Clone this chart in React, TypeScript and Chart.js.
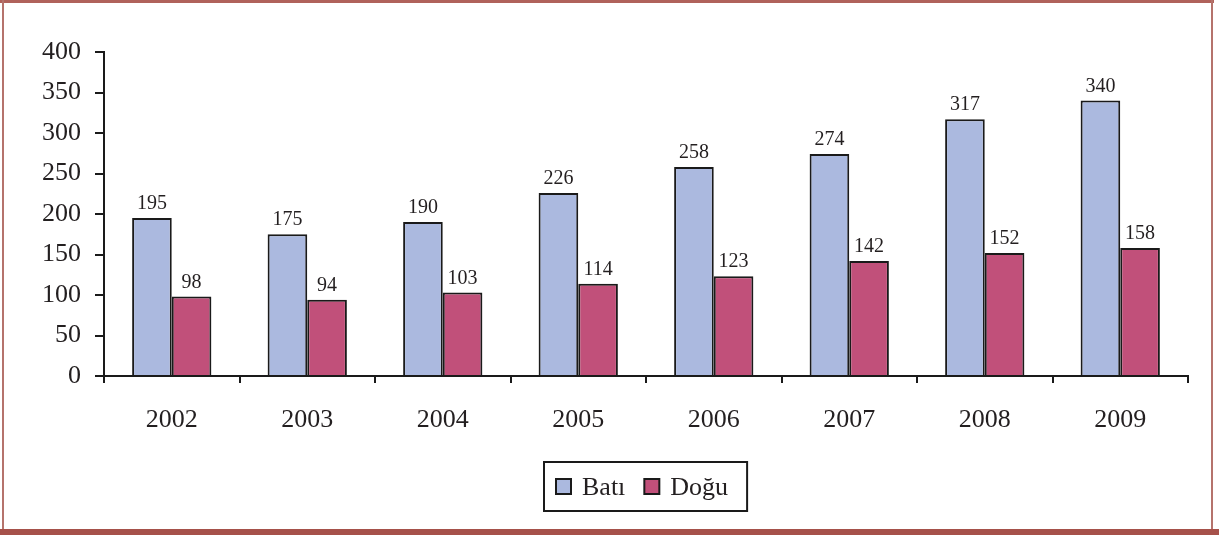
import React, { useEffect, useRef } from "react";
import { Chart, registerables } from "chart.js";

Chart.register(...registerables);

const categories = ["2002", "2003", "2004", "2005", "2006", "2007", "2008", "2009"];
const batiValues = [195, 175, 190, 226, 258, 274, 317, 340];
const doguValues = [98, 94, 103, 114, 123, 142, 152, 158];
const seriesNames = ["Batı", "Doğu"];
const yTicks = [0, 50, 100, 150, 200, 250, 300, 350, 400];

const FONT = '"Liberation Serif", "Times New Roman", serif';
const TEXT = "#231F20";
const BLUE = "#ABB9DF";
const RED = "#C1507A";

const W = 1219;
const H = 535;

const valueLabels = {
  id: "valueLabels",
  afterDatasetsDraw(chart: any) {
    const ctx = chart.ctx;
    ctx.save();
    ctx.font = `20px ${FONT}`;
    ctx.fillStyle = TEXT;
    ctx.textAlign = "center";
    ctx.textBaseline = "alphabetic";
    chart.data.datasets.forEach((ds: any, i: number) => {
      const meta = chart.getDatasetMeta(i);
      meta.data.forEach((el: any, j: number) => {
        ctx.fillText(String(ds.data[j]), el.x, el.y - 9);
      });
    });
    ctx.restore();
  },
};

const boxLegend = {
  id: "boxLegend",
  afterDraw(chart: any) {
    const ctx = chart.ctx;
    const area = chart.chartArea;
    ctx.save();
    ctx.font = `26px ${FONT}`;
    const items = chart.data.datasets.map((ds: any) => ({
      label: ds.label,
      color: ds.backgroundColor,
      w: ctx.measureText(ds.label).width,
    }));
    const padL = 12;
    const padR = 19;
    const sq = 15;
    const gapSqText = 11;
    const gapItems = 19;
    let total = padL + padR;
    items.forEach((it: any, i: number) => {
      total += sq + gapSqText + it.w + (i < items.length - 1 ? gapItems : 0);
    });
    const boxTop = 462;
    const boxH = 49;
    const cx = (area.left + area.right) / 2;
    const boxLeft = Math.round(cx - total / 2);
    ctx.lineWidth = 2;
    ctx.strokeStyle = "#1a1a1a";
    ctx.strokeRect(boxLeft, boxTop, total, boxH);
    let x = boxLeft + padL;
    items.forEach((it: any) => {
      ctx.fillStyle = it.color;
      ctx.fillRect(x, 479, sq, sq);
      ctx.lineWidth = 2;
      ctx.strokeStyle = "#1a1a1a";
      ctx.strokeRect(x, 479, sq, sq);
      ctx.fillStyle = TEXT;
      ctx.textAlign = "left";
      ctx.textBaseline = "alphabetic";
      ctx.fillText(it.label, x + sq + gapSqText, 495);
      x += sq + gapSqText + it.w + gapItems;
    });
    ctx.restore();
  },
};

export default function App() {
  const ref = useRef<HTMLCanvasElement | null>(null);

  useEffect(() => {
    document.body.style.margin = "0";
    const canvas = ref.current;
    if (!canvas) return;
    const chart = new Chart(canvas, {
      type: "bar",
      data: {
        labels: categories,
        datasets: [
          {
            label: seriesNames[0],
            data: batiValues,
            backgroundColor: BLUE,
            borderColor: "#1a1a1a",
            borderWidth: 2,
            categoryPercentage: 0.585,
            barPercentage: 1,
          },
          {
            label: seriesNames[1],
            data: doguValues,
            backgroundColor: RED,
            borderColor: "#1a1a1a",
            borderWidth: 2,
            categoryPercentage: 0.585,
            barPercentage: 1,
          },
        ],
      },
      options: {
        responsive: false,
        animation: false,
        devicePixelRatio: 1,
        layout: { padding: { top: 52, right: 31, left: 0, bottom: 0 } },
        plugins: {
          legend: { display: false },
          tooltip: { enabled: false },
        },
        scales: {
          x: {
            grid: {
              offset: true,
              drawOnChartArea: false,
              drawTicks: true,
              tickLength: 7,
              color: "#1a1a1a",
              lineWidth: 2,
            },
            border: { display: true, color: "#1a1a1a", width: 2 },
            ticks: {
              color: TEXT,
              font: { family: FONT, size: 26 },
              padding: 22,
              maxRotation: 0,
            },
            afterFit(scale: any) {
              scale.height = 159;
            },
          },
          y: {
            min: 0,
            max: 400,
            afterBuildTicks(scale: any) {
              scale.ticks = yTicks.map((v) => ({ value: v }));
            },
            grid: {
              drawOnChartArea: false,
              drawTicks: true,
              tickLength: 9,
              color: "#1a1a1a",
              lineWidth: 2,
            },
            border: { display: true, color: "#1a1a1a", width: 2 },
            ticks: {
              color: TEXT,
              font: { family: FONT, size: 26 },
              padding: 14,
            },
            afterFit(scale: any) {
              scale.width = 104;
            },
          },
        },
      },
      plugins: [valueLabels, boxLegend],
    });
    return () => chart.destroy();
  }, []);

  return (
    <div style={{ position: "fixed", left: 0, top: 0, width: W, height: H, background: "#fff" }}>
      <canvas ref={ref} width={W} height={H} style={{ position: "absolute", left: 0, top: 0, width: W, height: H }} />
      <div style={{ position: "absolute", left: 0, top: 0, width: 1214, height: 3, background: "#B0625B" }} />
      <div style={{ position: "absolute", left: 2, top: 0, width: 2, height: 530, background: "#B5736C" }} />
      <div style={{ position: "absolute", left: 1211, top: 0, width: 2, height: 530, background: "#B5736C" }} />
      <div style={{ position: "absolute", left: 0, top: 529, width: W, height: 6, background: "#A6514A" }} />
    </div>
  );
}
